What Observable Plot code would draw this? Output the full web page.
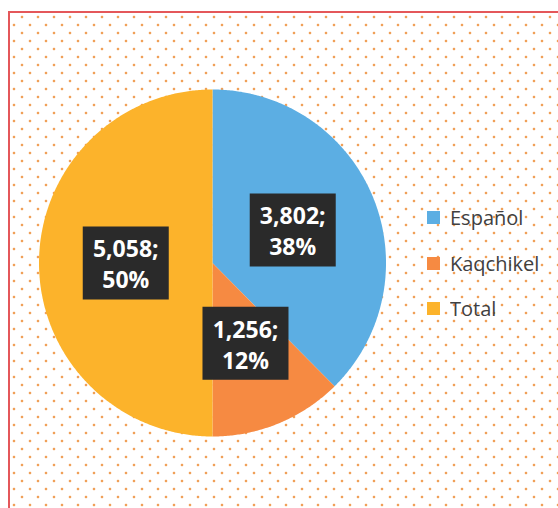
<!DOCTYPE html>
<html><head><meta charset="utf-8">
<script src="https://cdn.jsdelivr.net/npm/d3@7"></script>
<script src="https://cdn.jsdelivr.net/npm/@observablehq/plot@0.6"></script>
<style>
html,body{margin:0;padding:0;background:#fff;width:558px;height:508px;overflow:hidden;}
#frame{position:absolute;left:8px;top:11px;width:620px;height:620px;border:2px solid #e4575a;box-sizing:border-box;
background-image: radial-gradient(circle at 14px 6px, #f0a058 1.0px, rgba(255,255,255,0) 1.7px), radial-gradient(circle at 6px 14px, #f0a058 1.0px, rgba(255,255,255,0) 1.7px);
background-size:16px 16px; background-origin:border-box; background-position:0 0;}
#chart{position:absolute;left:0;top:0;}
#legend{position:absolute;left:427px;top:204px;}
#legend .lg-swatch{padding-bottom:18.5px !important;}
</style>
</head><body>
<div id="frame"></div>
<div id="chart"></div>
<div id="legend"></div>
<script>
const categories = ["Español", "Kaqchikel", "Total"];
const values = [3802, 1256, 5058];
const colors = ["#5caee3", "#f68a42", "#fcb32b"];

const total = d3.sum(values);
const rows = categories.map((c, i) => ({cat: c, value: values[i]}));
const arcs = d3.pie().sort(null).value(d => d.value).startAngle(0).endAngle(2 * Math.PI)(rows);

const poly = [];
for (const a of arcs) {
  poly.push({cat: a.data.cat, x: 0, y: 0});
  const n = Math.max(2, Math.ceil((a.endAngle - a.startAngle) / (Math.PI / 360)));
  for (let k = 0; k <= n; k++) {
    const t = a.startAngle + (a.endAngle - a.startAngle) * k / n;
    poly.push({cat: a.data.cat, x: Math.sin(t), y: Math.cos(t)});
  }
}
const labels = arcs.map(a => {
  const m = (a.startAngle + a.endAngle) / 2;
  return {
    cat: a.data.cat,
    x: 0.5 * Math.sin(m),
    y: 0.5 * Math.cos(m),
    label: d3.format(",")(a.data.value) + ";\n" + Math.round(100 * a.data.value / total) + "%"
  };
});

const boxSymbol = {draw(ctx) { ctx.rect(-43, -36.5, 86, 73); }};

const R = 173.5, cx = 212, cy = 262.5;
const svg = Plot.plot({
  width: 558, height: 508, margin: 0,
  x: {domain: [-1, 1], range: [cx - R, cx + R], axis: null},
  y: {domain: [-1, 1], range: [cy + R, cy - R], axis: null},
  color: {domain: categories, range: colors},
  style: {background: "transparent", overflow: "visible"},
  marks: [
    Plot.line(poly, {x: "x", y: "y", z: "cat", fill: "cat", stroke: "none", curve: "linear-closed"}),
    Plot.dot(labels, {x: "x", y: "y", symbol: boxSymbol, r: 10, fill: "#2a2a2a", stroke: "none"}),
    Plot.text(labels, {x: "x", y: "y", text: "label", fill: "white", fontSize: 23, fontWeight: "bold",
      fontFamily: "Open Sans", lineHeight: 1.35})
  ]
});
document.getElementById("chart").appendChild(svg);

const lg = Plot.legend({
  color: {domain: categories, range: colors},
  legend: "swatches", columns: 1, swatchSize: 13, className: "lg",
  style: {fontFamily: "Open Sans", fontSize: "20px", color: "#404040", background: "transparent"}
});
document.getElementById("legend").appendChild(lg);
</script>
</body></html>
